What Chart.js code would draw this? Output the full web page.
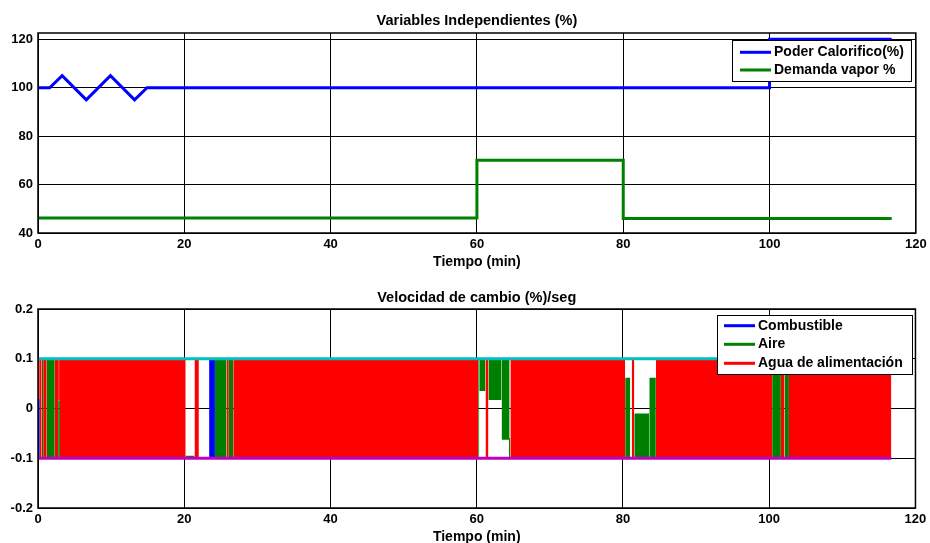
<!DOCTYPE html>
<html><head><meta charset="utf-8">
<script src="https://cdn.jsdelivr.net/npm/chart.js@4.4.0/dist/chart.umd.min.js"></script>
<style>
html,body{margin:0;padding:0;background:#fff;width:930px;height:543px;overflow:hidden;position:relative;}
#c1{position:absolute;left:0;top:0;}
#c2{position:absolute;left:0;top:272px;}
</style></head><body>
<canvas id="c1" width="930" height="272"></canvas>
<canvas id="c2" width="930" height="280"></canvas>
<script>
// ---------- data ----------
const timeTicks = [0, 20, 40, 60, 80, 100, 120];
const topYTicks = [40, 60, 80, 100, 120];
const bottomYTicks = [-0.2, -0.1, 0, 0.1, 0.2];

// Top plot: Variables Independientes (%)
const calorTime  = [0, 1.6, 3.3, 6.6, 9.9, 13.2, 14.9, 100, 100, 116.7];
const calorValue = [100, 100, 105, 95, 105, 95, 100, 100, 120, 120];
const demandTime  = [0, 60, 60, 80, 80, 116.7];
const demandValue = [46.2, 46.2, 70, 70, 46, 46];

// Bottom plot: chattering regions [start, end, low, high]
const fuelBands = [
  [0, 0.25, -0.1, 0.02],
  [23.4, 24.2, -0.1, 0.1]
];
const airBands = [
  [0.5, 0.7, -0.1, 0.1],
  [1.2, 2.3, -0.1, 0.1],
  [2.75, 3.0, -0.1, 0.016],
  [20.2, 21.4, -0.1, -0.095],
  [24.2, 25.8, -0.1, 0.1],
  [26.1, 26.7, -0.1, 0.1],
  [60.2, 60.35, -0.1, 0.1],
  [60.35, 61.2, 0.035, 0.1],
  [61.6, 63.4, 0.017, 0.1],
  [63.4, 64.5, -0.063, 0.1],
  [64.4, 64.6, -0.1, -0.06],
  [80.3, 81.0, -0.1, 0.062],
  [81.55, 83.6, -0.1, -0.01],
  [83.6, 84.5, -0.1, 0.062],
  [100.4, 101.6, -0.1, 0.1],
  [102.1, 102.7, -0.1, 0.1]
];
const waterBands = [
  [0, 0.25, 0.02, 0.1],
  [0.25, 0.5, -0.1, 0.1],
  [0.7, 1.2, -0.1, 0.1],
  [2.3, 2.75, -0.1, 0.1],
  [2.75, 3.0, 0.016, 0.1],
  [3.0, 20.2, -0.1, 0.1],
  [21.4, 22.0, -0.1, 0.1],
  [25.8, 26.1, -0.1, 0.1],
  [26.7, 60.2, -0.1, 0.1],
  [61.2, 61.6, -0.1, 0.1],
  [64.6, 80.3, -0.1, 0.1],
  [81.2, 81.55, -0.1, 0.1],
  [84.5, 100.4, -0.1, 0.1],
  [101.6, 102.1, -0.1, 0.1],
  [102.7, 116.7, -0.1, 0.1]
];
const limitTime  = [0, 116.7];
const upperLimit = [0.1, 0.1];
const lowerLimit = [-0.1, -0.1];

// ---------- styling helpers ----------
const FONT = '"Liberation Sans", Arial, Helvetica, sans-serif';
const BLUE = '#0000FF', GREEN = '#008000', RED = '#FF0000', CYAN = '#00BFBF', MAGENTA = '#BF00BF';

function pts(xs, ys) { return xs.map((x, i) => ({x: x, y: ys[i]})); }

function xScale(tickPad, titlePadBottom, axisHeight) {
  return {
    type: 'linear', min: 0, max: 120,
    afterBuildTicks: s => { s.ticks = timeTicks.map(v => ({value: v})); },
    afterFit: s => { s.height = axisHeight; },
    grid: {color: '#000', lineWidth: 1, drawTicks: false},
    border: {display: false},
    ticks: {padding: tickPad, color: '#000', maxRotation: 0, autoSkip: false,
            font: {family: FONT, size: 13, weight: 'bold'}, callback: v => String(v)},
    title: {display: true, text: 'Tiempo (min)', color: '#000',
            font: {family: FONT, size: 14, weight: 'bold'}, padding: {top: 0, bottom: titlePadBottom}}
  };
}
function yScale(min, max, ticks) {
  return {
    type: 'linear', min: min, max: max,
    afterBuildTicks: s => { s.ticks = ticks.map(v => ({value: v})); },
    afterFit: s => { s.width = 38; },
    grid: {color: '#000', lineWidth: 1, drawTicks: false},
    border: {display: false},
    ticks: {padding: 5, color: '#000', autoSkip: false,
            font: {family: FONT, size: 13, weight: 'bold'}, callback: v => String(v)}
  };
}

const boxPlugin = {
  id: 'axesBox',
  afterDatasetsDraw(chart) {
    const a = chart.chartArea, ctx = chart.ctx;
    ctx.save();
    ctx.strokeStyle = '#000';
    ctx.lineWidth = 1.5;
    ctx.strokeRect(a.left, a.top, a.right - a.left, a.bottom - a.top);
    ctx.restore();
  }
};

const legendBoxPlugin = {
  id: 'legendBox',
  afterDraw(chart, args, opts) {
    if (!opts || !opts.items) return;
    const ctx = chart.ctx;
    ctx.save();
    ctx.fillStyle = '#fff';
    ctx.fillRect(opts.x0, opts.y0, opts.x1 - opts.x0, opts.y1 - opts.y0);
    ctx.strokeStyle = '#000';
    ctx.lineWidth = 1;
    ctx.strokeRect(opts.x0 + 0.5, opts.y0 + 0.5, opts.x1 - opts.x0, opts.y1 - opts.y0);
    ctx.font = 'bold 14px ' + FONT;
    ctx.textBaseline = 'middle';
    ctx.textAlign = 'left';
    opts.items.forEach((it, i) => {
      const y = opts.rows[i];
      ctx.strokeStyle = it.color;
      ctx.lineWidth = 3;
      ctx.beginPath();
      ctx.moveTo(opts.lx0, y);
      ctx.lineTo(opts.lx1, y);
      ctx.stroke();
      ctx.fillStyle = '#000';
      ctx.fillText(it.label, opts.tx, y);
    });
    ctx.restore();
  }
};

function bandDatasets(bands, color, order) {
  return bands.map(b => ({
    data: [{x: b[0], y: b[3]}, {x: b[1], y: b[3]}],
    fill: {value: b[2]},
    backgroundColor: color,
    borderColor: 'rgba(0,0,0,0)',
    borderWidth: 0,
    pointRadius: 0,
    order: order
  }));
}

const common = {
  responsive: false,
  animation: false,
  devicePixelRatio: 1,
  events: [],
  layout: {padding: {left: 0, right: 14, top: 0, bottom: 0}},
  elements: {line: {tension: 0}, point: {radius: 0}}
};

// ---------- top chart ----------
new Chart(document.getElementById('c1'), {
  type: 'line',
  data: {
    datasets: [
      {label: 'Poder Calorifico(%)', data: pts(calorTime, calorValue), borderColor: BLUE, borderWidth: 3, pointRadius: 0, fill: false, order: 2},
      {label: 'Demanda vapor %', data: pts(demandTime, demandValue), borderColor: GREEN, borderWidth: 3, pointRadius: 0, fill: false, order: 1}
    ]
  },
  options: Object.assign({}, common, {
    scales: {x: xScale(3.3, 1.9, 39), y: yScale(40, 122.6, topYTicks)},
    plugins: {
      legend: {display: false},
      tooltip: {enabled: false},
      title: {display: true, fullSize: false, text: 'Variables Independientes (%)', color: '#000',
              font: {family: FONT, size: 14.5, weight: 'bold'}, padding: {top: 11.8, bottom: 3.8}},
      legendBox: {x0: 732, y0: 40, x1: 911, y1: 81, lx0: 740, lx1: 771, tx: 774,
                  rows: [52.3, 70],
                  items: [{label: 'Poder Calorifico(%)', color: BLUE}, {label: 'Demanda vapor %', color: GREEN}]}
    }
  }),
  plugins: [boxPlugin, legendBoxPlugin]
});

// ---------- bottom chart ----------
const bottomSets = []
  .concat(bandDatasets(fuelBands, BLUE, 4))
  .concat(bandDatasets(airBands, GREEN, 3))
  .concat(bandDatasets(waterBands, RED, 2))
  .concat([
    {data: pts(limitTime, upperLimit), borderColor: CYAN, borderWidth: 3, pointRadius: 0, fill: false, order: 1},
    {data: pts(limitTime, lowerLimit), borderColor: MAGENTA, borderWidth: 3, pointRadius: 0, fill: false, order: 1}
  ]);

new Chart(document.getElementById('c2'), {
  type: 'line',
  data: {datasets: bottomSets},
  options: Object.assign({}, common, {
    scales: {x: xScale(3.7, 6.9, 44), y: yScale(-0.2, 0.2, bottomYTicks)},
    plugins: {
      legend: {display: false},
      tooltip: {enabled: false},
      title: {display: true, fullSize: false, text: 'Velocidad de cambio (%)/seg', color: '#000',
              font: {family: FONT, size: 14.5, weight: 'bold'}, padding: {top: 17.6, bottom: 2.0}},
      legendBox: {x0: 717, y0: 43, x1: 912, y1: 102, lx0: 724, lx1: 755, tx: 758,
                  rows: [53.7, 72.3, 91.3],
                  items: [{label: 'Combustible', color: BLUE}, {label: 'Aire', color: GREEN}, {label: 'Agua de alimentación', color: RED}]}
    }
  }),
  plugins: [boxPlugin, legendBoxPlugin]
});
</script>
</body></html>
